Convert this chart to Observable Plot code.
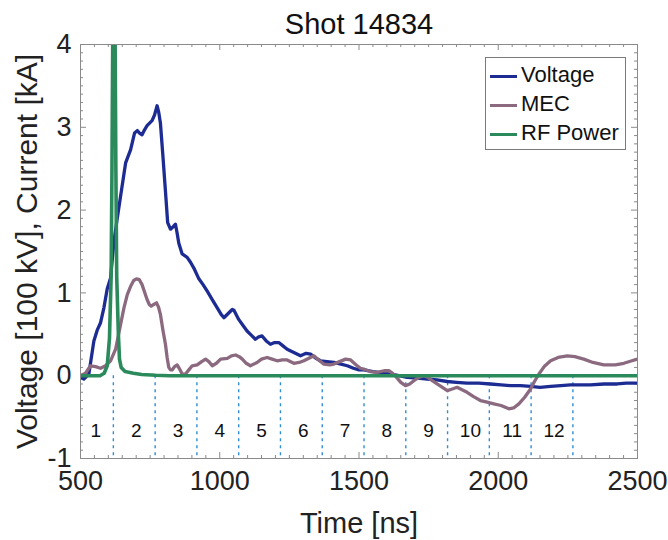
<!DOCTYPE html>
<html><head><meta charset="utf-8">
<script src="https://cdn.jsdelivr.net/npm/d3@7"></script>
<script src="https://cdn.jsdelivr.net/npm/@observablehq/plot@0.6"></script>
<style>
body{margin:0;background:#fff;font-family:"Liberation Sans",Arial,sans-serif;}
#wrap{position:relative;width:668px;height:540px;}
#legend{position:absolute;left:485px;top:57px;width:141px;height:93px;border:1px solid #7a7a7a;background:#fff;box-sizing:border-box;}
.entry{position:absolute;left:0;height:24px;width:140px;}
.entry .sw{position:absolute;left:4px;top:10.5px;width:27px;height:3px;}
.entry .lb{position:absolute;left:35px;top:-1px;font-size:22px;line-height:24px;color:#111;white-space:nowrap;}
</style>
</head><body>
<div id="wrap"></div>
<script>
// ---- data ----
const titleText = "Shot 14834";
const xLabel = "Time [ns]";
const yLabel = "Voltage [100 kV], Current [kA]";
const seriesNames = ["Voltage", "MEC", "RF Power"];
const seriesColors = ["#1c2c92", "#8b6a80", "#2b8a5b"];

const xTicks = [500, 1000, 1500, 2000, 2500];
const yTicks = [-1, 0, 1, 2, 3, 4];

const voltageT = [500,512,530,548,560,572,584,596,608,620,632,644,662,680,694,704,712,721,730,739,757,766,775,781,787,796,805,813,823,833,841,847,853,865,883,895,907,925,940,955,973,991,1005,1015,1033,1045,1051,1068,1083,1098,1113,1128,1140,1152,1167,1182,1197,1212,1227,1242,1266,1290,1310,1326,1345,1362,1385,1410,1435,1458,1480,1500,1517,1550,1589,1630,1673,1710,1745,1780,1817,1850,1888,1930,1972,2010,2044,2080,2116,2150,2188,2225,2259,2300,2331,2380,2427,2460,2500];
const voltageV = [-0.02,-0.04,0.02,0.42,0.55,0.64,0.82,1.05,1.18,1.62,1.90,2.17,2.57,2.73,2.93,2.96,2.93,2.91,2.97,3.02,3.08,3.15,3.26,3.18,3.05,2.65,2.23,1.85,1.77,1.80,1.83,1.72,1.60,1.47,1.43,1.37,1.30,1.17,1.10,1.02,0.92,0.82,0.74,0.70,0.76,0.80,0.79,0.68,0.61,0.54,0.49,0.44,0.47,0.48,0.42,0.38,0.40,0.40,0.36,0.32,0.28,0.24,0.27,0.26,0.21,0.18,0.17,0.16,0.14,0.12,0.09,0.07,0.07,0.05,0.03,0.01,-0.02,-0.03,-0.04,-0.05,-0.07,-0.08,-0.09,-0.09,-0.10,-0.11,-0.12,-0.12,-0.13,-0.14,-0.13,-0.12,-0.11,-0.11,-0.11,-0.10,-0.10,-0.09,-0.09];

const mecT = [500,518,536,554,572,590,608,626,644,656,668,680,691,701,711,721,730,739,747,754,763,773,780,787,796,805,811,817,823,829,838,847,856,865,877,889,901,919,935,949,961,973,988,1003,1027,1042,1057,1070,1081,1095,1110,1134,1150,1170,1188,1206,1225,1242,1266,1285,1302,1320,1338,1355,1374,1395,1410,1430,1452,1470,1490,1505,1517,1540,1565,1590,1607,1620,1635,1650,1667,1682,1697,1715,1733,1748,1763,1790,1817,1835,1852,1870,1888,1910,1936,1960,1984,2010,2038,2055,2074,2095,2116,2130,2146,2165,2188,2215,2248,2275,2307,2340,2379,2420,2451,2480,2500];
const mecV = [0.00,0.03,0.12,0.11,0.09,0.12,0.18,0.32,0.62,0.82,0.98,1.08,1.15,1.17,1.16,1.10,1.01,0.92,0.86,0.84,0.86,0.88,0.83,0.74,0.55,0.38,0.22,0.10,0.07,0.07,0.11,0.13,0.08,0.02,0.02,0.07,0.12,0.13,0.17,0.20,0.17,0.12,0.15,0.20,0.21,0.24,0.25,0.23,0.20,0.15,0.12,0.16,0.20,0.22,0.20,0.18,0.19,0.19,0.15,0.16,0.18,0.21,0.24,0.19,0.14,0.13,0.14,0.17,0.20,0.19,0.13,0.09,0.08,0.05,0.04,0.06,0.06,0.03,-0.02,-0.08,-0.12,-0.10,-0.06,-0.02,0.00,-0.02,-0.06,-0.12,-0.18,-0.16,-0.14,-0.17,-0.20,-0.25,-0.30,-0.32,-0.34,-0.36,-0.40,-0.39,-0.34,-0.26,-0.16,-0.07,0.02,0.11,0.18,0.22,0.24,0.23,0.20,0.16,0.13,0.13,0.15,0.18,0.20];

const rfT = [500,570,585,596,604,610,613,616,620,624,627,630,636,640,646,660,690,720,770,820,2500];
const rfV = [0,0,0.03,0.12,0.45,1.2,2.5,4.2,6,4.2,2.5,1.2,0.5,0.2,0.1,0.05,0.03,0.015,0.005,0,0];

const boundaries = [618,768,918,1068,1218,1368,1518,1668,1818,1968,2118,2268];
const regionLabels = ["1","2","3","4","5","6","7","8","9","10","11","12"];
const regionX = [555,700,850,1000,1150,1300,1450,1600,1750,1900,2050,2200];
const regionY = -0.67;

// ---- layout ----
const W = 668, H = 540, mL = 80, mR = 31, mT = 44, mB = 82;
const xDom = [500, 2500], yDom = [-1, 4];
const pxX = (W - mL - mR) / (xDom[1] - xDom[0]);
const pxY = (H - mT - mB) / (yDom[1] - yDom[0]);

const toRows = (T, V) => T.map((t, i) => ({t, v: V[i]}));
const series = [toRows(voltageT, voltageV), toRows(mecT, mecV), toRows(rfT, rfV)];

const xMinor = d3.range(550, 2500, 50).filter(d => !xTicks.includes(d));
const yMinor = d3.range(-9, 40).map(d => d / 10).filter(d => !yTicks.includes(d));
const axisColor = "#8a8a8a";
const minorLen = 3, majorLen = 6;

const tickMarks = [];
for (const [arr, len] of [[xMinor, minorLen], [xTicks, majorLen]]) {
  tickMarks.push(Plot.ruleX(arr, {y1: yDom[0], y2: yDom[0] + len / pxY, stroke: axisColor}));
  tickMarks.push(Plot.ruleX(arr, {y1: yDom[1], y2: yDom[1] - len / pxY, stroke: axisColor}));
}
for (const [arr, len] of [[yMinor, minorLen], [yTicks, majorLen]]) {
  tickMarks.push(Plot.ruleY(arr, {x1: xDom[0], x2: xDom[0] + len / pxX, stroke: axisColor}));
  tickMarks.push(Plot.ruleY(arr, {x1: xDom[1], x2: xDom[1] - len / pxX, stroke: axisColor}));
}

const chart = Plot.plot({
  width: W, height: H,
  marginLeft: mL, marginRight: mR, marginTop: mT, marginBottom: mB,
  style: {fontFamily: "'Liberation Sans', Arial, sans-serif", background: "#fff"},
  x: {domain: xDom, label: null},
  y: {domain: yDom, label: null},
  marks: [
    ...tickMarks,
    Plot.ruleX(boundaries, {y1: 0, y2: -1, stroke: "#2f8dd3", strokeWidth: 1.4, strokeDasharray: "3,4"}),
    Plot.text(regionLabels, {x: (d, i) => regionX[i], y: regionY, text: d => d, fontSize: 19, fill: "#111"}),
    ...series.map((rows, i) => Plot.line(rows, {x: "t", y: "v", stroke: seriesColors[i], strokeWidth: i === 2 ? 3.6 : 3.3, clip: true})),
    Plot.frame({stroke: axisColor}),
    Plot.axisX({ticks: xTicks, tickSize: 0, tickPadding: 12, fontSize: 27, fill: "#222", tickFormat: d => String(d), label: null}),
    Plot.axisY({ticks: yTicks, tickSize: 0, tickPadding: 9, fontSize: 27, fill: "#222", tickFormat: d => String(d), label: null}),
    Plot.text([titleText], {frameAnchor: "top", dy: -11, lineAnchor: "bottom", fontSize: 29, fill: "#111"}),
    Plot.text([xLabel], {frameAnchor: "bottom", dy: 74, lineAnchor: "bottom", fontSize: 29, fill: "#222"}),
    Plot.text([yLabel], {frameAnchor: "left", dx: -44, rotate: -90, textAnchor: "middle", lineAnchor: "bottom", fontSize: 30, fill: "#222"})
  ]
});

const wrap = document.getElementById("wrap");
wrap.appendChild(chart);

const legend = document.createElement("div");
legend.id = "legend";
seriesNames.forEach((name, i) => {
  const e = document.createElement("div");
  e.className = "entry";
  e.style.top = (6 + i * 29) + "px";
  const sw = document.createElement("div");
  sw.className = "sw";
  sw.style.background = seriesColors[i];
  const lb = document.createElement("div");
  lb.className = "lb";
  lb.textContent = name;
  e.appendChild(sw); e.appendChild(lb);
  legend.appendChild(e);
});
wrap.appendChild(legend);
</script>
</body></html>
